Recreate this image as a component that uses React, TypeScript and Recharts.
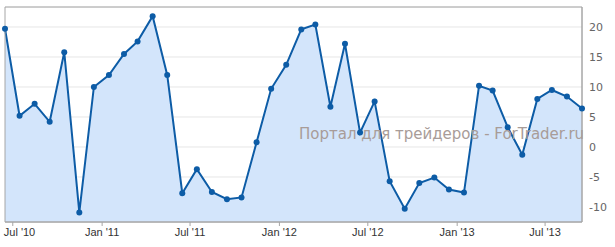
import React from "react";
import {
  Area,
  AreaChart,
  CartesianGrid,
  ReferenceArea,
  XAxis,
  YAxis,
} from "recharts";

// monthly points, 15th of each month, Jun 2010 .. Sep 2013
const startYear = 2010;
const startMonth = 5; // June (0-based)

const values = [
  19.7, 5.2, 7.2, 4.2, 15.8, -10.9, 10.0, 12.0, 15.5, 17.6,
  21.8, 12.0, -7.7, -3.7, -7.5, -8.7, -8.4, 0.8, 9.7, 13.7,
  19.6, 20.4, 6.7, 17.2, 2.4, 7.6, -5.7, -10.3, -6.0, -5.1,
  -7.1, -7.6, 10.2, 9.4, 3.3, -1.3, 8.0, 9.5, 8.4, 6.4,
];

const monthNames = ["Jan", "Feb", "Mar", "Apr", "May", "Jun", "Jul", "Aug", "Sep", "Oct", "Nov", "Dec"];

// x ticks: Jan / Jul of each year
const xTickDates: [number, number][] = [
  [2010, 6],
  [2011, 0],
  [2011, 6],
  [2012, 0],
  [2012, 6],
  [2013, 0],
  [2013, 6],
];

const yTicks = [-10, -5, 0, 5, 10, 15, 20];
const Y_MIN = -12.5;
const Y_MAX = 23.33;

const data = values.map((v, i) => ({
  t: Date.UTC(startYear, startMonth + i, 15),
  v,
}));

const xTicks = xTickDates.map(([y, m]) => Date.UTC(y, m, 1));

const fmtDate = (t: number) => {
  const d = new Date(t);
  return `${monthNames[d.getUTCMonth()]} '${String(d.getUTCFullYear()).slice(2)}`;
};

const LINE = "#0d5ca6";
const FILL = "#d3e5fb";
const BORDER = "#a6a6a6";

// keeps the first label inside the plot, like the original does
function XTick(props: any) {
  const { x, y, payload } = props;
  const half = 14.5;
  const cx = Math.max(x, 5 + half);
  return (
    <text
      x={cx}
      y={y}
      dy="0.71em"
      textAnchor="middle"
      fill="#333"
      fontSize={11}
      fontFamily="Liberation Sans, Arial, sans-serif"
    >
      {fmtDate(payload.value)}
    </text>
  );
}

export default function App() {
  return (
    <div style={{ position: "absolute", left: 0, top: 0, width: 615, height: 247 }}>
      <AreaChart
        width={615}
        height={247}
        data={data}
        margin={{ top: 7, right: 0, bottom: 0, left: 5 }}
      >
        <CartesianGrid vertical={false} stroke="#e6e6e6" strokeWidth={1} />
        <XAxis
          dataKey="t"
          type="number"
          scale="time"
          domain={["dataMin", "dataMax"]}
          ticks={xTicks}
          interval={0}
          height={25}
          tickSize={4}
          tickMargin={2}
          axisLine={{ stroke: BORDER }}
          tickLine={{ stroke: BORDER }}
          tick={<XTick />}
        />
        <YAxis
          orientation="right"
          type="number"
          domain={[Y_MIN, Y_MAX]}
          ticks={yTicks}
          allowDataOverflow
          width={33}
          tickLine={false}
          tickSize={5}
          tickMargin={2}
          axisLine={{ stroke: BORDER }}
          tick={{ fill: "#666", fontSize: 11, fontFamily: "DejaVu Sans, Verdana, sans-serif" }}
        />
        <Area
          type="linear"
          dataKey="v"
          baseValue="dataMin"
          stroke={LINE}
          strokeWidth={2}
          fill={FILL}
          fillOpacity={1}
          dot={{ r: 3, fill: LINE, stroke: LINE, strokeWidth: 0 }}
          activeDot={false}
          isAnimationActive={false}
        />
        <ReferenceArea
          y1={Y_MIN}
          y2={Y_MAX}
          fill="none"
          stroke={BORDER}
          strokeWidth={1}
          ifOverflow="visible"
        />
      </AreaChart>
      <svg
        width={615}
        height={247}
        style={{ position: "absolute", left: 0, top: 0, pointerEvents: "none" }}
      >
        <text
          x={299}
          y={139}
          fill="#a89c98"
          fontSize={15}
          fontFamily="DejaVu Sans, Verdana, sans-serif"
        >
          Портал для трейдеров - ForTrader.ru
        </text>
      </svg>
    </div>
  );
}
